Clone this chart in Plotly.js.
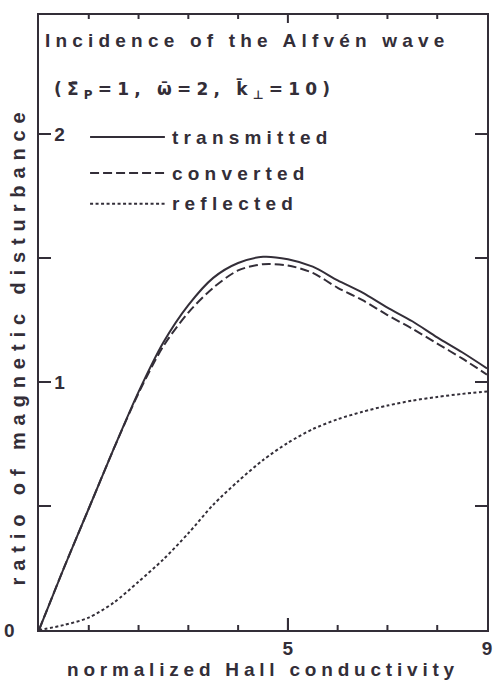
<!DOCTYPE html>
<html>
<head>
<meta charset="utf-8">
<script src="https://cdn.plot.ly/plotly-3.0.1.min.js"></script>
<style>
  html, body { margin: 0; padding: 0; background: #fff; }
  #chart { width: 493px; height: 682px; }
  .annotation-text { letter-spacing: 5.2px; }
  g.annotation[data-index="3"] .annotation-text { letter-spacing: 6.9px; }
  .xtitle { letter-spacing: 4.8px; }
</style>
</head>
<body>
<div id="chart"></div>
<script>
// normalized Hall conductivity
const hallConductivity = [0, 0.5, 1, 1.5, 2, 2.5, 3, 3.5, 4, 4.5, 5, 5.5, 6, 6.5, 7, 7.5, 8, 8.5, 9];
// ratio of magnetic disturbance
const transmitted = [0, 0.25, 0.49, 0.73, 0.96, 1.16, 1.31, 1.42, 1.48, 1.505, 1.495, 1.465, 1.41, 1.36, 1.30, 1.245, 1.18, 1.12, 1.055];
const converted   = [0, 0.25, 0.49, 0.73, 0.955, 1.145, 1.28, 1.38, 1.45, 1.475, 1.47, 1.44, 1.38, 1.33, 1.27, 1.215, 1.155, 1.095, 1.03];
const reflected   = [0, 0.02, 0.05, 0.11, 0.195, 0.285, 0.39, 0.505, 0.60, 0.685, 0.755, 0.81, 0.85, 0.88, 0.905, 0.925, 0.94, 0.952, 0.962];
const seriesNames = ['transmitted', 'converted', 'reflected'];
const xTickVals = [0, 5, 9];
const xTickText = ['0', '5', '9'];
const xMinorTickVals = [1, 2, 3, 4, 6, 7, 8];
const yTickVals = [0.5, 1, 1.5, 2];
const yTickText = ['', '1', '', '2'];

const ink = '#332e38';
const fontFam = '"Liberation Sans", Arial, sans-serif';
const dashes = ['solid', '9px,4px', '3px,2.5px'];
const seriesY = [transmitted, converted, reflected];
const xRange = [0, 9], yRange = [0, 2.48];
const plotW = 448, plotH = 615;

const traces = seriesY.map((ys, i) => ({
  x: hallConductivity, y: ys, name: seriesNames[i],
  type: 'scatter', mode: 'lines',
  line: { color: ink, width: 2, dash: dashes[i], shape: 'spline', smoothing: 0.8 },
  showlegend: false, hoverinfo: 'skip'
}));

// tick marks on all four sides as short segments on the axes' scales (lengths in px)
const dxPx = (xRange[1] - xRange[0]) / plotW, dyPx = (yRange[1] - yRange[0]) / plotH;
const tx = [], ty = [];
function addX(v, lenBottom, lenTop) {
  tx.push(v, v, null, v, v, null);
  ty.push(yRange[0], yRange[0] + lenBottom * dyPx, null, yRange[1], yRange[1] - lenTop * dyPx, null);
}
xTickVals.filter(v => v > xRange[0] && v < xRange[1]).forEach(v => addX(v, 12, 8));
xMinorTickVals.forEach(v => addX(v, 5, 4));
yTickVals.forEach(v => {
  tx.push(xRange[0], xRange[0] + 12 * dxPx, null, xRange[1], xRange[1] - 12 * dxPx, null);
  ty.push(v, v, null, v, v, null);
});
traces.push({ x: tx, y: ty, type: 'scatter', mode: 'lines', connectgaps: false,
  line: { color: ink, width: 2 }, showlegend: false, hoverinfo: 'skip', cliponaxis: false });

// legend drawn inside the frame (paper coords)
const legendRowsY = [0.8016, 0.743, 0.693];
const shapes = seriesNames.map((n, i) => ({
  type: 'line', xref: 'paper', yref: 'paper',
  x0: 0.114, x1: 0.281, y0: legendRowsY[i], y1: legendRowsY[i],
  line: { color: ink, width: 2, dash: dashes[i] }
}));

const tf = { family: fontFam, size: 19, color: ink, weight: 'bold' };
const annotations = [
  { text: 'Incidence of the Alfvén wave', xref: 'paper', yref: 'paper', x: 0.009, y: 0.959,
    xanchor: 'left', yanchor: 'middle', showarrow: false, font: tf },
  { text: '(Σ̄<sub>P</sub>=1, ω̄=2, k̄<sub>⊥</sub>=10)', xref: 'paper', yref: 'paper', x: 0.029, y: 0.878,
    xanchor: 'left', yanchor: 'middle', showarrow: false,
    font: { family: '"DejaVu Sans", sans-serif', size: 17, color: ink, weight: 'bold' } },
  { text: '0', xref: 'paper', yref: 'y', x: 0, y: 0, xanchor: 'right', yanchor: 'middle',
    xshift: -17, showarrow: false, font: tf },
  { text: 'ratio of magnetic disturbance', xref: 'paper', yref: 'paper', x: 0, y: 0.462,
    xanchor: 'center', yanchor: 'middle', xshift: -21, textangle: -90, showarrow: false,
    font: { family: fontFam, size: 20, color: ink, weight: 'bold' } }
].concat(seriesNames.map((n, i) => ({
  text: n, xref: 'paper', yref: 'paper', x: 0.292, y: legendRowsY[i],
  xanchor: 'left', yanchor: 'middle', showarrow: false, font: tf
})));

const layout = {
  width: 493, height: 682,
  margin: { l: 39, r: 6, t: 15, b: 52 },
  paper_bgcolor: '#ffffff', plot_bgcolor: '#ffffff',
  showlegend: false,
  xaxis: {
    range: xRange, tickmode: 'array', tickvals: xTickVals, ticktext: xTickText,
    ticks: 'inside', ticklen: 12, tickwidth: 2, tickcolor: ink,
    showline: true, linecolor: ink, linewidth: 2, mirror: true,
    showgrid: false, zeroline: false,
    tickfont: tf,
    title: { text: 'normalized Hall conductivity', standoff: 4, font: tf }
  },
  yaxis: {
    range: yRange, tickmode: 'array', tickvals: yTickVals, ticktext: yTickText,
    ticks: 'inside', ticklen: 12, tickwidth: 2, tickcolor: ink,
    ticklabelposition: 'inside', ticklabelstandoff: 4,
    showline: true, linecolor: ink, linewidth: 2, mirror: true,
    showgrid: false, zeroline: false,
    tickfont: tf
  },
  shapes: shapes,
  annotations: annotations
};

Plotly.newPlot('chart', traces, layout, { staticPlot: true, displayModeBar: false });
</script>
</body>
</html>
